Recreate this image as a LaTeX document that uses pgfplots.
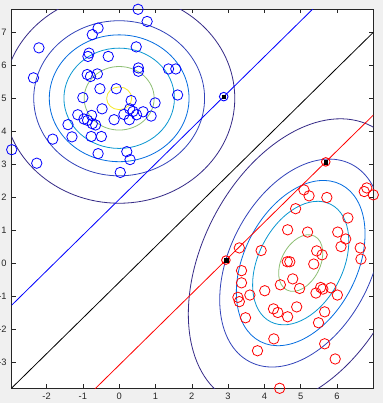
\documentclass[border=0pt]{standalone}
\usepackage{fontspec}
\setmainfont{Liberation Sans}
\usepackage{pgfplots}
\usepackage{pgfplotstable}
\pgfplotsset{compat=1.18}
\definecolor{figbg}{rgb}{0.94,0.94,0.94}
\definecolor{axgray}{rgb}{0.15,0.15,0.15}
\definecolor{levA}{rgb}{0.2081,0.1663,0.5292}
\definecolor{levB}{rgb}{0.196,0.264,0.728}
\definecolor{levC}{rgb}{0.016,0.426,0.879}
\definecolor{levD}{rgb}{0.036,0.594,0.820}
\definecolor{levE}{rgb}{0.555,0.749,0.456}
\definecolor{levF}{rgb}{0.960,0.910,0.157}

\pgfplotstableread{
x y
0.52 7.70
0.77 7.33
-0.58 7.13
-0.74 6.93
-2.21 6.53
0.47 6.56
-0.83 6.37
-0.86 6.27
-0.30 6.27
-2.36 5.62
-0.88 5.72
-0.79 5.66
-0.60 5.74
0.53 5.92
0.53 5.82
1.36 5.89
1.56 5.89
1.61 5.10
-0.53 5.29
-0.08 5.29
-1.00 5.02
0.33 4.93
0.99 4.86
-0.47 4.68
0.29 4.68
0.38 4.60
0.66 4.59
0.13 4.51
0.48 4.50
0.88 4.46
-1.14 4.50
-0.76 4.48
-0.14 4.35
0.28 4.35
-0.97 4.37
-0.87 4.33
-0.74 4.23
-0.65 4.19
-1.41 4.20
-1.30 3.83
-1.83 3.76
-0.77 3.84
-0.49 3.84
-2.96 3.44
-0.58 3.32
0.21 3.38
0.30 3.14
-2.27 3.03
0.03 2.75
}\bluedata

\pgfplotstableread{
x y
4.86 1.65
6.30 1.37
4.64 1.01
5.19 0.94
6.02 0.94
6.24 0.73
6.11 0.50
6.64 0.46
6.66 0.12
3.31 0.46
3.91 0.38
5.44 0.37
5.59 0.25
5.36 -0.03
4.63 0.04
4.70 0.04
3.37 -0.23
3.37 -0.60
4.78 -0.48
4.44 -0.66
4.97 -0.77
5.55 -0.74
5.61 -0.79
5.83 -0.75
5.42 -0.91
6.01 -0.97
4.01 -0.84
3.60 -0.97
3.27 -1.04
3.31 -1.17
4.25 -1.39
4.37 -1.50
4.89 -1.33
4.64 -1.63
5.66 -1.48
3.48 -1.66
5.49 -1.81
4.26 -2.30
5.66 -2.45
3.81 -2.66
5.95 -2.91
4.42 -3.80
5.09 2.22
5.23 2.04
5.72 1.99
6.75 2.17
6.82 2.28
7.00 2.07
}\reddata

\pgfplotstableread{
x y
2.88 5.05
5.69 3.07
2.94 0.09
}\svdata

\begin{document}
\begin{tikzpicture}
\fill[figbg] (-11.7pt,-14.7pt) rectangle (371.3pt,388.3pt);
\begin{axis}[at={(0pt,0pt)}, anchor=south west, scale only axis,
  width=361.6pt, height=379pt,
  xmin=-2.96, xmax=7.0, ymin=-3.8, ymax=7.7,
  axis background/.style={fill=white},
  xtick={-2,...,6}, ytick={-3,...,7},
  tick align=inside, major tick length=4pt,
  axis line style={axgray, line width=0.5pt},
  tick style={axgray, line width=0.5pt},
  ticklabel style={font=\fontsize{9.3}{11}\selectfont, text=axgray},
  /pgf/number format/assume math mode=true,
  yticklabel style={xshift=-1.6pt},
  xticklabel style={yshift=-1.3pt},
]
% contours of class 1 (isotropic Gaussian at (0,5))
\draw[levA, line width=0.8pt] (axis cs:0,5) ellipse [x radius=115.61pt, y radius=104.95pt];
\draw[levB, line width=0.8pt] (axis cs:0,5) ellipse [x radius=85.42pt, y radius=77.55pt];
\draw[levC, line width=0.8pt] (axis cs:0,5) ellipse [x radius=69.86pt, y radius=63.41pt];
\draw[levD, line width=0.8pt] (axis cs:0,5) ellipse [x radius=55.25pt, y radius=50.15pt];
\draw[levE, line width=0.8pt] (axis cs:0,5) ellipse [x radius=35.00pt, y radius=31.77pt];
\draw[levF, line width=0.8pt] (axis cs:0,5) ellipse [x radius=12.50pt, y radius=11.34pt];
% contours of class 2 (correlated Gaussian at (5,0))
\draw[levA, line width=0.8pt, rotate around={62.76:(axis cs:5,0)}] (axis cs:5,0) ellipse [x radius=154.13pt, y radius=98.36pt];
\draw[levB, line width=0.8pt, rotate around={62.76:(axis cs:5,0)}] (axis cs:5,0) ellipse [x radius=111.08pt, y radius=70.89pt];
\draw[levC, line width=0.8pt, rotate around={62.76:(axis cs:5,0)}] (axis cs:5,0) ellipse [x radius=88.28pt, y radius=56.33pt];
\draw[levD, line width=0.8pt, rotate around={62.76:(axis cs:5,0)}] (axis cs:5,0) ellipse [x radius=65.99pt, y radius=42.11pt];
\draw[levE, line width=0.8pt, rotate around={62.76:(axis cs:5,0)}] (axis cs:5,0) ellipse [x radius=30.28pt, y radius=19.32pt];
% separating line and margins
\addplot[black, line width=0.8pt] coordinates {(-2.96,-3.792) (7.0,7.0)};
\addplot[blue, line width=0.8pt] coordinates {(-2.96,-1.278) (5.4,7.780)};
\addplot[red, line width=0.8pt] coordinates {(-0.7,-3.854) (7.0,4.489)};
% data
\addplot[only marks, mark=o, mark size=5.2pt, blue, mark options={line width=0.8pt}] table {\bluedata};
\addplot[only marks, mark=o, mark size=5.2pt, red, mark options={line width=0.8pt}] table {\reddata};
% support vectors
\addplot[only marks, mark=o, mark size=4.3pt, blue, mark options={line width=0.9pt}] coordinates {(2.88,5.05)};
\addplot[only marks, mark=o, mark size=4.3pt, red, mark options={line width=0.9pt}] coordinates {(5.69,3.07) (2.94,0.09)};
\addplot[only marks, mark=square*, mark size=1.9pt, black] table {\svdata};
\end{axis}
\pgfresetboundingbox
\useasboundingbox (-11.7pt,-14.7pt) rectangle (371.3pt,388.3pt);
\end{tikzpicture}
\end{document}
